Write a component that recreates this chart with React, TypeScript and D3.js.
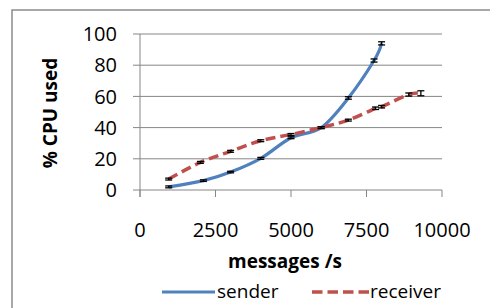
import React from 'react';
import * as d3 from 'd3';

// values
const senderRate = [950, 2100, 3000, 4000, 5000, 6000, 6900, 7750, 8000];
const senderCpu = [2, 6, 11.5, 20.3, 33.5, 40, 59, 83, 94];
const senderErr = [0.6, 0.5, 0.5, 0.6, 0.6, 0.6, 0.8, 1, 1];

const receiverRate = [950, 2000, 3000, 4000, 5000, 6000, 6900, 7800, 8000, 8900, 9300];
const receiverCpu = [7, 17.7, 24.8, 31.6, 35.6, 40, 44.8, 52.4, 53.4, 61.2, 62];
const receiverErr = [0.6, 0.6, 0.6, 0.6, 0.6, 0.6, 0.6, 0.8, 0.8, 1, 1.6];

const xTicks = [0, 2500, 5000, 7500, 10000];
const yTicks = [0, 20, 40, 60, 80, 100];

const BLUE = '#4f81bd';
const RED = '#c0504d';
const GRID = '#868686';
const FONT = '"Open Sans", sans-serif';

export default function App() {
  const x = d3.scaleLinear().domain([0, 10000]).range([140, 442]);
  const y = d3.scaleLinear().domain([0, 100]).range([190, 34]);

  // excel-like smoothing
  const line = d3.line<[number, number]>()
    .x(d => x(d[0]))
    .y(d => y(d[1]))
    .curve(d3.curveCardinal.tension(0));

  const sender = senderRate.map((r, i) => [r, senderCpu[i]] as [number, number]);
  const receiver = receiverRate.map((r, i) => [r, receiverCpu[i]] as [number, number]);

  // small black error bars
  function errBars(rates: number[], vals: number[], errs: number[], key: string) {
    return rates.map((r, i) => {
      const cx = x(r);
      const y0 = y(vals[i] - errs[i]);
      const y1 = y(vals[i] + errs[i]);
      return (
        <g key={key + i} stroke="#000" strokeWidth={1.3}>
          <line x1={cx} x2={cx} y1={y0} y2={y1} />
          <line x1={cx - 3.5} x2={cx + 3.5} y1={y0} y2={y0} />
          <line x1={cx - 3.5} x2={cx + 3.5} y1={y1} y2={y1} />
        </g>
      );
    });
  }

  return (
    <svg width={490} height={308} style={{ position: 'absolute', left: 0, top: 0, background: '#fff' }}>
      {/* chart frame */}
      <rect x={12} y={10} width={520} height={340} fill="none" stroke="#8c8c8c" strokeWidth={1.5} />

      {/* gridlines */}
      {yTicks.map(t => (
        <line key={'g' + t} x1={133} x2={x(10000)} y1={y(t)} y2={y(t)} stroke={GRID} strokeWidth={1} />
      ))}
      {/* y axis */}
      <line x1={x(0)} x2={x(0)} y1={y(100)} y2={197} stroke={GRID} strokeWidth={1} />
      {/* x ticks */}
      {xTicks.map(t => (
        <line key={'xt' + t} x1={x(t)} x2={x(t)} y1={y(0)} y2={197} stroke={GRID} strokeWidth={1} />
      ))}

      {/* y tick labels */}
      {yTicks.map(t => (
        <text key={'yl' + t} x={117} y={y(t)} dy="0.36em" textAnchor="end"
          fontFamily={FONT} fontSize={20} fill="#000">{t}</text>
      ))}
      {/* x tick labels */}
      {xTicks.map(t => (
        <text key={'xl' + t} x={x(t)} y={237} textAnchor="middle"
          fontFamily={FONT} fontSize={20} fill="#000">{t}</text>
      ))}

      {/* axis titles */}
      <text transform="translate(57,113) rotate(-90)" textAnchor="middle"
        fontFamily={FONT} fontSize={19} fontWeight="bold" fill="#000">% CPU used</text>
      <text x={285} y={268} textAnchor="middle"
        fontFamily={FONT} fontSize={19} fontWeight="bold" fill="#000">messages /s</text>

      {/* series */}
      <path d={line(sender) || ''} fill="none" stroke={BLUE} strokeWidth={3.2} />
      <path d={line(receiver) || ''} fill="none" stroke={RED} strokeWidth={3.5} strokeDasharray="10,5" />
      {errBars(senderRate, senderCpu, senderErr, 's')}
      {errBars(receiverRate, receiverCpu, receiverErr, 'r')}

      {/* legend */}
      <line x1={162} x2={215} y1={292} y2={292} stroke={BLUE} strokeWidth={3.2} />
      <text x={217} y={298} fontFamily={FONT} fontSize={19} fill="#000">sender</text>
      <line x1={312} x2={369} y1={292} y2={292} stroke={RED} strokeWidth={3.5} strokeDasharray="10.5,5" />
      <text x={370} y={298} fontFamily={FONT} fontSize={19} fill="#000">receiver</text>
    </svg>
  );
}
